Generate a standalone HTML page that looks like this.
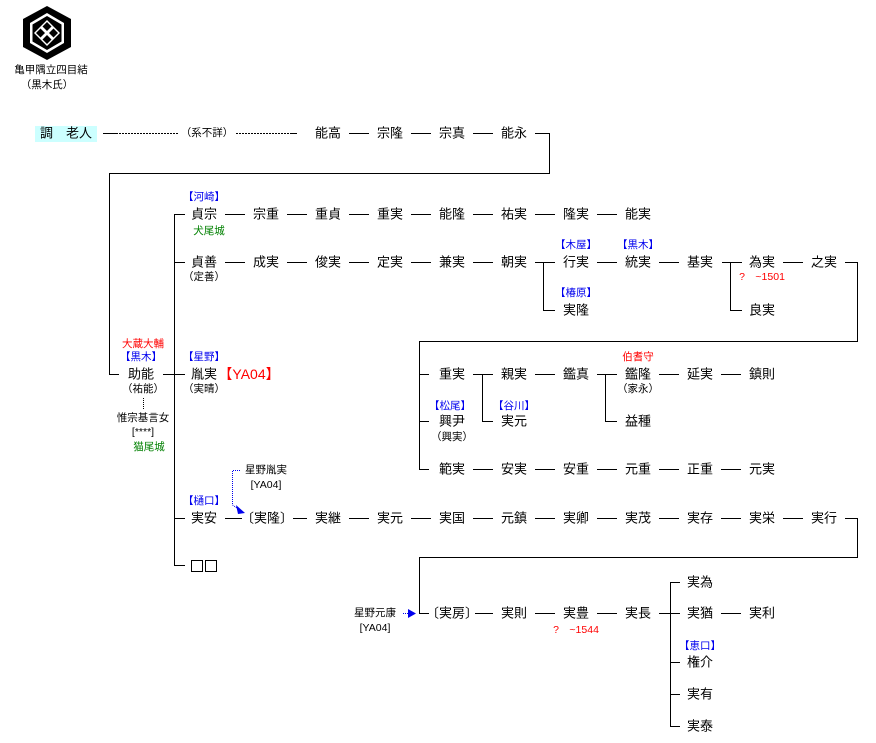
<!DOCTYPE html>
<html><head><meta charset="utf-8"><style>
body{margin:0;width:876px;height:743px;background:#fff;position:relative;overflow:hidden;font-family:"Liberation Sans","Noto Sans CJK JP",sans-serif;}
.t{position:absolute;transform:translate(-50%,-50%);white-space:nowrap;font-size:13px;color:#000;line-height:1;}
.s{font-size:10.5px;}
.b{color:#0000ee;}
.r{color:#ff0000;}
.g{color:#008000;}
svg{position:absolute;left:0;top:0;}
.box{position:absolute;width:10px;height:10px;border:1px solid #000;top:560px;}
</style></head><body>
<svg width="876" height="743">
<g stroke="#000" stroke-width="1" fill="none" shape-rendering="crispEdges">
<line x1="103" y1="133.5" x2="116" y2="133.5"/>
<line x1="116" y1="133.5" x2="178" y2="133.5" stroke-dasharray="2,1"/>
<line x1="236" y1="133.5" x2="292" y2="133.5" stroke-dasharray="2,1"/>
<line x1="292" y1="133.5" x2="297" y2="133.5"/>
<line x1="349" y1="133.5" x2="369" y2="133.5"/>
<line x1="411" y1="133.5" x2="431" y2="133.5"/>
<line x1="473" y1="133.5" x2="493" y2="133.5"/>
<line x1="535" y1="133.5" x2="549.5" y2="133.5"/>
<polyline points="549.5,133 549.5,173.5 109.5,173.5 109.5,374.5 119,374.5"/>
<line x1="174.5" y1="214" x2="174.5" y2="565.5"/>
<line x1="174" y1="214.5" x2="185" y2="214.5"/>
<line x1="174" y1="262.5" x2="185" y2="262.5"/>
<line x1="163" y1="374.5" x2="185" y2="374.5"/>
<line x1="174" y1="518.5" x2="185" y2="518.5"/>
<line x1="174" y1="565.5" x2="185" y2="565.5"/>
<line x1="143.5" y1="398" x2="143.5" y2="409" stroke-dasharray="1,1"/>
<line x1="225" y1="214.5" x2="245" y2="214.5"/>
<line x1="287" y1="214.5" x2="307" y2="214.5"/>
<line x1="349" y1="214.5" x2="369" y2="214.5"/>
<line x1="411" y1="214.5" x2="431" y2="214.5"/>
<line x1="473" y1="214.5" x2="493" y2="214.5"/>
<line x1="535" y1="214.5" x2="555" y2="214.5"/>
<line x1="597" y1="214.5" x2="617" y2="214.5"/>
<line x1="225" y1="262.5" x2="245" y2="262.5"/>
<line x1="287" y1="262.5" x2="307" y2="262.5"/>
<line x1="349" y1="262.5" x2="369" y2="262.5"/>
<line x1="411" y1="262.5" x2="431" y2="262.5"/>
<line x1="473" y1="262.5" x2="493" y2="262.5"/>
<line x1="535" y1="262.5" x2="555" y2="262.5"/>
<polyline points="543.5,262 543.5,310.5 555,310.5"/>
<line x1="597" y1="262.5" x2="617" y2="262.5"/>
<line x1="659" y1="262.5" x2="679" y2="262.5"/>
<line x1="722" y1="262.5" x2="742" y2="262.5"/>
<polyline points="730.5,262 730.5,310.5 742,310.5"/>
<line x1="783" y1="262.5" x2="803" y2="262.5"/>
<polyline points="845,262.5 857.5,262.5 857.5,341.5 419.5,341.5 419.5,469.5 429,469.5"/>
<line x1="419" y1="374.5" x2="429" y2="374.5"/>
<line x1="419" y1="421.5" x2="429" y2="421.5"/>
<line x1="473" y1="374.5" x2="493" y2="374.5"/>
<polyline points="482.5,374 482.5,421.5 493,421.5"/>
<line x1="535" y1="374.5" x2="555" y2="374.5"/>
<line x1="597" y1="374.5" x2="617" y2="374.5"/>
<polyline points="605.5,374 605.5,421.5 617,421.5"/>
<line x1="659" y1="374.5" x2="679" y2="374.5"/>
<line x1="721" y1="374.5" x2="741" y2="374.5"/>
<line x1="473" y1="469.5" x2="493" y2="469.5"/>
<line x1="535" y1="469.5" x2="555" y2="469.5"/>
<line x1="597" y1="469.5" x2="617" y2="469.5"/>
<line x1="659" y1="469.5" x2="679" y2="469.5"/>
<line x1="721" y1="469.5" x2="741" y2="469.5"/>
<line x1="225" y1="518.5" x2="242" y2="518.5"/>
<line x1="293" y1="518.5" x2="307" y2="518.5"/>
<line x1="349" y1="518.5" x2="369" y2="518.5"/>
<line x1="411" y1="518.5" x2="431" y2="518.5"/>
<line x1="473" y1="518.5" x2="493" y2="518.5"/>
<line x1="535" y1="518.5" x2="555" y2="518.5"/>
<line x1="597" y1="518.5" x2="617" y2="518.5"/>
<line x1="659" y1="518.5" x2="679" y2="518.5"/>
<line x1="721" y1="518.5" x2="741" y2="518.5"/>
<line x1="783" y1="518.5" x2="803" y2="518.5"/>
<polyline points="845,518.5 857.5,518.5 857.5,557.5 419.5,557.5 419.5,613.5 429,613.5"/>
<line x1="475" y1="613.5" x2="493" y2="613.5"/>
<line x1="535" y1="613.5" x2="555" y2="613.5"/>
<line x1="597" y1="613.5" x2="617" y2="613.5"/>
<line x1="659" y1="613.5" x2="670" y2="613.5"/>
<line x1="670.5" y1="582" x2="670.5" y2="726.5"/>
<line x1="670" y1="582.5" x2="680" y2="582.5"/>
<line x1="670" y1="613.5" x2="680" y2="613.5"/>
<line x1="670" y1="662.5" x2="680" y2="662.5"/>
<line x1="670" y1="694.5" x2="680" y2="694.5"/>
<line x1="670" y1="726.5" x2="680" y2="726.5"/>
<line x1="721" y1="613.5" x2="741" y2="613.5"/>
</g>
<g stroke="#0000ee" fill="none" stroke-dasharray="1,1">
<polyline points="240,470.5 232.5,470.5 232.5,505 240,510"/>
<line x1="403" y1="613.5" x2="410" y2="613.5"/>
</g>
<polygon points="236,505 245,513 238,514" fill="#0000ee"/>
<polygon points="408,609 416,613.5 408,618" fill="#0000ee"/>
<g transform="translate(47,33)">
<polygon points="0,-27 24,-14 24,14 0,27 -24,14 -24,-14" fill="#000"/>
<polygon points="0,-20 17,-10 17,10 0,20 -17,10 -17,-10" fill="#fff"/>
<polygon points="0,-17 14.5,-8.5 14.5,8.5 0,17 -14.5,8.5 -14.5,-8.5" fill="#000"/>
<polygon points="0,-13 13,0 0,13 -13,0" fill="#fff"/>
<polygon points="0,-11 4.5,-6.5 0,-2 -4.5,-6.5" fill="#000"/>
<polygon points="0,2 4.5,6.5 0,11 -4.5,6.5" fill="#000"/>
<polygon points="-11,0 -6.5,-4.5 -2,0 -6.5,4.5" fill="#000"/>
<polygon points="2,0 6.5,-4.5 11,0 6.5,4.5" fill="#000"/>
</g>
</svg>
<div style="position:absolute;left:35px;top:126px;width:62px;height:16px;background:#ccffff"></div>
<div class="t s" style="left:51px;top:70px">亀甲隅立四目結</div>
<div class="t s" style="left:47px;top:85px">（黒木氏）</div>
<div class="t" style="left:66px;top:133px">調　老人</div>
<div class="t s" style="left:207px;top:133px">（系不詳）</div>
<div class="t" style="left:328px;top:133px">能高</div>
<div class="t" style="left:390px;top:133px">宗隆</div>
<div class="t" style="left:452px;top:133px">宗真</div>
<div class="t" style="left:514px;top:133px">能永</div>

<div class="t s b" style="left:204px;top:197px">【河崎】</div>
<div class="t s g" style="left:209px;top:231px">犬尾城</div>
<div class="t" style="left:204px;top:214px">貞宗</div>
<div class="t" style="left:266px;top:214px">宗重</div>
<div class="t" style="left:328px;top:214px">重貞</div>
<div class="t" style="left:390px;top:214px">重実</div>
<div class="t" style="left:452px;top:214px">能隆</div>
<div class="t" style="left:514px;top:214px">祐実</div>
<div class="t" style="left:576px;top:214px">隆実</div>
<div class="t" style="left:638px;top:214px">能実</div>

<div class="t" style="left:204px;top:262px">貞善</div>
<div class="t s" style="left:204px;top:277px">（定善）</div>
<div class="t" style="left:266px;top:262px">成実</div>
<div class="t" style="left:328px;top:262px">俊実</div>
<div class="t" style="left:390px;top:262px">定実</div>
<div class="t" style="left:452px;top:262px">兼実</div>
<div class="t" style="left:514px;top:262px">朝実</div>
<div class="t s b" style="left:576px;top:245px">【木屋】</div>
<div class="t" style="left:576px;top:262px">行実</div>
<div class="t s b" style="left:638px;top:245px">【黒木】</div>
<div class="t" style="left:638px;top:262px">統実</div>
<div class="t" style="left:700px;top:262px">基実</div>
<div class="t" style="left:762px;top:262px">為実</div>
<div class="t s r" style="left:762px;top:277px">?　~1501</div>
<div class="t" style="left:824px;top:262px">之実</div>
<div class="t s b" style="left:576px;top:293px">【椿原】</div>
<div class="t" style="left:576px;top:310px">実隆</div>
<div class="t" style="left:762px;top:310px">良実</div>

<div class="t s r" style="left:143px;top:344px">大蔵大輔</div>
<div class="t s b" style="left:141px;top:357px">【黒木】</div>
<div class="t" style="left:141px;top:374px">助能</div>
<div class="t s" style="left:143px;top:389px">（祐能）</div>
<div class="t s" style="left:143px;top:418px">惟宗基言女</div>
<div class="t s" style="left:143px;top:432px">[****]</div>
<div class="t s g" style="left:149px;top:447px">猫尾城</div>
<div class="t s b" style="left:204px;top:357px">【星野】</div>
<div class="t" style="left:204px;top:374px">胤実</div>
<div class="t r" style="left:249px;top:374px;font-size:14px">【YA04】</div>
<div class="t s" style="left:204px;top:389px">（実晴）</div>

<div class="t s r" style="left:638px;top:357px">伯耆守</div>
<div class="t" style="left:452px;top:374px">重実</div>
<div class="t" style="left:514px;top:374px">親実</div>
<div class="t" style="left:576px;top:374px">鑑真</div>
<div class="t" style="left:638px;top:374px">鑑隆</div>
<div class="t s" style="left:638px;top:389px">（家永）</div>
<div class="t" style="left:700px;top:374px">延実</div>
<div class="t" style="left:762px;top:374px">鎮則</div>
<div class="t s b" style="left:450px;top:406px">【松尾】</div>
<div class="t" style="left:452px;top:421px">興尹</div>
<div class="t s" style="left:452px;top:437px">（興実）</div>
<div class="t s b" style="left:514px;top:406px">【谷川】</div>
<div class="t" style="left:514px;top:421px">実元</div>
<div class="t" style="left:638px;top:421px">益種</div>

<div class="t" style="left:452px;top:469px">範実</div>
<div class="t" style="left:514px;top:469px">安実</div>
<div class="t" style="left:576px;top:469px">安重</div>
<div class="t" style="left:638px;top:469px">元重</div>
<div class="t" style="left:700px;top:469px">正重</div>
<div class="t" style="left:762px;top:469px">元実</div>

<div class="t s" style="left:266px;top:470px">星野胤実</div>
<div class="t s" style="left:266px;top:485px">[YA04]</div>
<div class="t s b" style="left:204px;top:501px">【樋口】</div>
<div class="t" style="left:204px;top:518px">実安</div>
<div class="t" style="left:267px;top:518px">〔実隆〕</div>
<div class="t" style="left:328px;top:518px">実継</div>
<div class="t" style="left:390px;top:518px">実元</div>
<div class="t" style="left:452px;top:518px">実国</div>
<div class="t" style="left:514px;top:518px">元鎮</div>
<div class="t" style="left:576px;top:518px">実卿</div>
<div class="t" style="left:638px;top:518px">実茂</div>
<div class="t" style="left:700px;top:518px">実存</div>
<div class="t" style="left:762px;top:518px">実栄</div>
<div class="t" style="left:824px;top:518px">実行</div>
<div class="box" style="left:191px"></div>
<div class="box" style="left:205px"></div>

<div class="t s" style="left:375px;top:613px">星野元康</div>
<div class="t s" style="left:375px;top:628px">[YA04]</div>
<div class="t" style="left:452px;top:613px">〔実房〕</div>
<div class="t" style="left:514px;top:613px">実則</div>
<div class="t" style="left:576px;top:613px">実豊</div>
<div class="t s r" style="left:576px;top:630px">?　~1544</div>
<div class="t" style="left:638px;top:613px">実長</div>
<div class="t" style="left:700px;top:582px">実為</div>
<div class="t" style="left:700px;top:613px">実猶</div>
<div class="t" style="left:762px;top:613px">実利</div>
<div class="t s b" style="left:700px;top:646px">【恵口】</div>
<div class="t" style="left:700px;top:662px">権介</div>
<div class="t" style="left:700px;top:694px">実有</div>
<div class="t" style="left:700px;top:726px">実泰</div>
</body></html>
